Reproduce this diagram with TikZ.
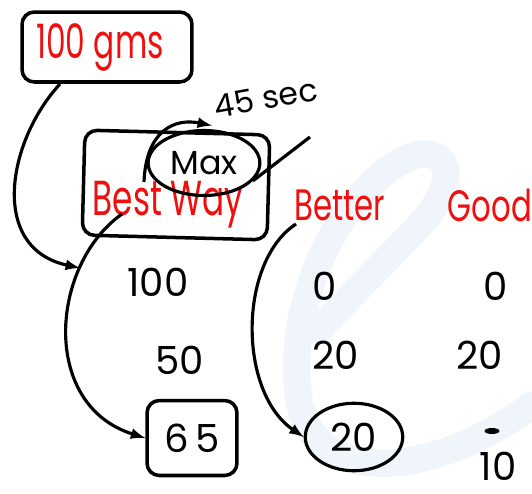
\documentclass[tikz,border=0pt]{standalone}
\usepackage{fontspec}
\setmainfont{Poppins}
\usepackage{tikz}
\usetikzlibrary{shapes}
\usetikzlibrary{calc}
\usetikzlibrary{positioning}
\definecolor{wmark}{RGB}{239,245,251}
\definecolor{inkred}{RGB}{240,15,15}

\begin{document}
\begin{tikzpicture}[x=0.02cm,y=-0.02cm]
			\tikzstyle{arrow}=[draw, -latex, line width=1.8pt]
			\tikzstyle{sketch}=[draw, line width=2pt, rounded corners=7pt]
			\tikzstyle{head}=[text=inkred, font=\fontsize{25}{27}\selectfont, xscale=0.7]
			\tikzstyle{num}=[font=\fontsize{22}{24}\selectfont]
			\useasboundingbox (0,0) rectangle (532,494);
			% faint watermark
			\draw[line width=0.55cm, color=wmark, line cap=round] (318,330) -- (420,225) .. controls (470,170) and (440,135) .. (395,165) .. controls (320,215) and (285,330) .. (300,405) .. controls (318,485) and (430,480) .. (532,405);
			
			\node[rectangle,sketch,minimum width=3.4cm,minimum height=1.4cm] at (107,47) (gramsBox) {};
			\node[text=inkred, font=\fontsize{27}{29}\selectfont, xscale=0.66] at (100,47) (gramsLabel) {100 gms};
			
			\node[rectangle,sketch,minimum width=3.7cm,minimum height=2.1cm,rotate=-1.5] at (176,185) (bestWayBox) {};
			\node[head, font=\fontsize{28}{30}\selectfont, xscale=0.95] at (168,205) (bestWay) {Best Way};
			\node[ellipse,draw,line width=1.8pt,minimum width=1.95cm,minimum height=1.3cm,font=\fontsize{19}{21}\selectfont] at (204,163) (maxNode) {Max};
			\node[font=\fontsize{18}{20}\selectfont,rotate=10] at (266,98) (secLabel) {45 sec};
			\coordinate (maxTail) at (144,182);
	  		\path[arrow] (maxTail) .. controls (146,130) and (175,118) .. (secLabel.south west);
			\coordinate (maxLineEnd) at (310,137);
	  		\draw[line width=1.8pt] (maxNode.-20) -- (maxLineEnd);
			
			\node[head] at (340,205) (betterHead) {Better};
			\node[head] at (490,205) (goodHead) {Good};
			
			\node[num] at (158,282) (bestOne) {100};
			\node[num] at (180,360) (bestTwo) {50};
			\node[rectangle,sketch,minimum width=1.8cm,minimum height=1.5cm,num] at (192,438) (bestThree) {6\,5};
			
			\node[num] at (325,286) (betterOne) {0};
			\node[num] at (336,355) (betterTwo) {20};
			\node[ellipse,draw,line width=1.8pt,minimum width=1.95cm,minimum height=1.35cm,num] at (354,437) (betterThree) {20};
			
			\node[num] at (496,286) (goodOne) {0};
			\node[num] at (480,355) (goodTwo) {20};
			\node[num] at (498,466) (goodThree) {10};
			\node[fill=black, ellipse, inner sep=0pt, minimum width=0.3cm, minimum height=0.12cm] at (492,431) (goodScribble) {};
			
			\coordinate (gramsTail) at (60,84);
			\coordinate (hundredHook) at (80,268);
	  		\path[arrow] (gramsTail) .. controls (8,140) and (-12,248) .. (hundredHook);
			\coordinate (bestWayTail) at (122,214);
	  		\path[arrow] (bestWayTail) .. controls (50,265) and (40,405) .. (bestThree.west);
			\coordinate (betterTail) at (296,224);
	  		\path[arrow] (betterTail) .. controls (238,262) and (238,392) .. (betterThree.west);
		\end{tikzpicture}
\end{document}
